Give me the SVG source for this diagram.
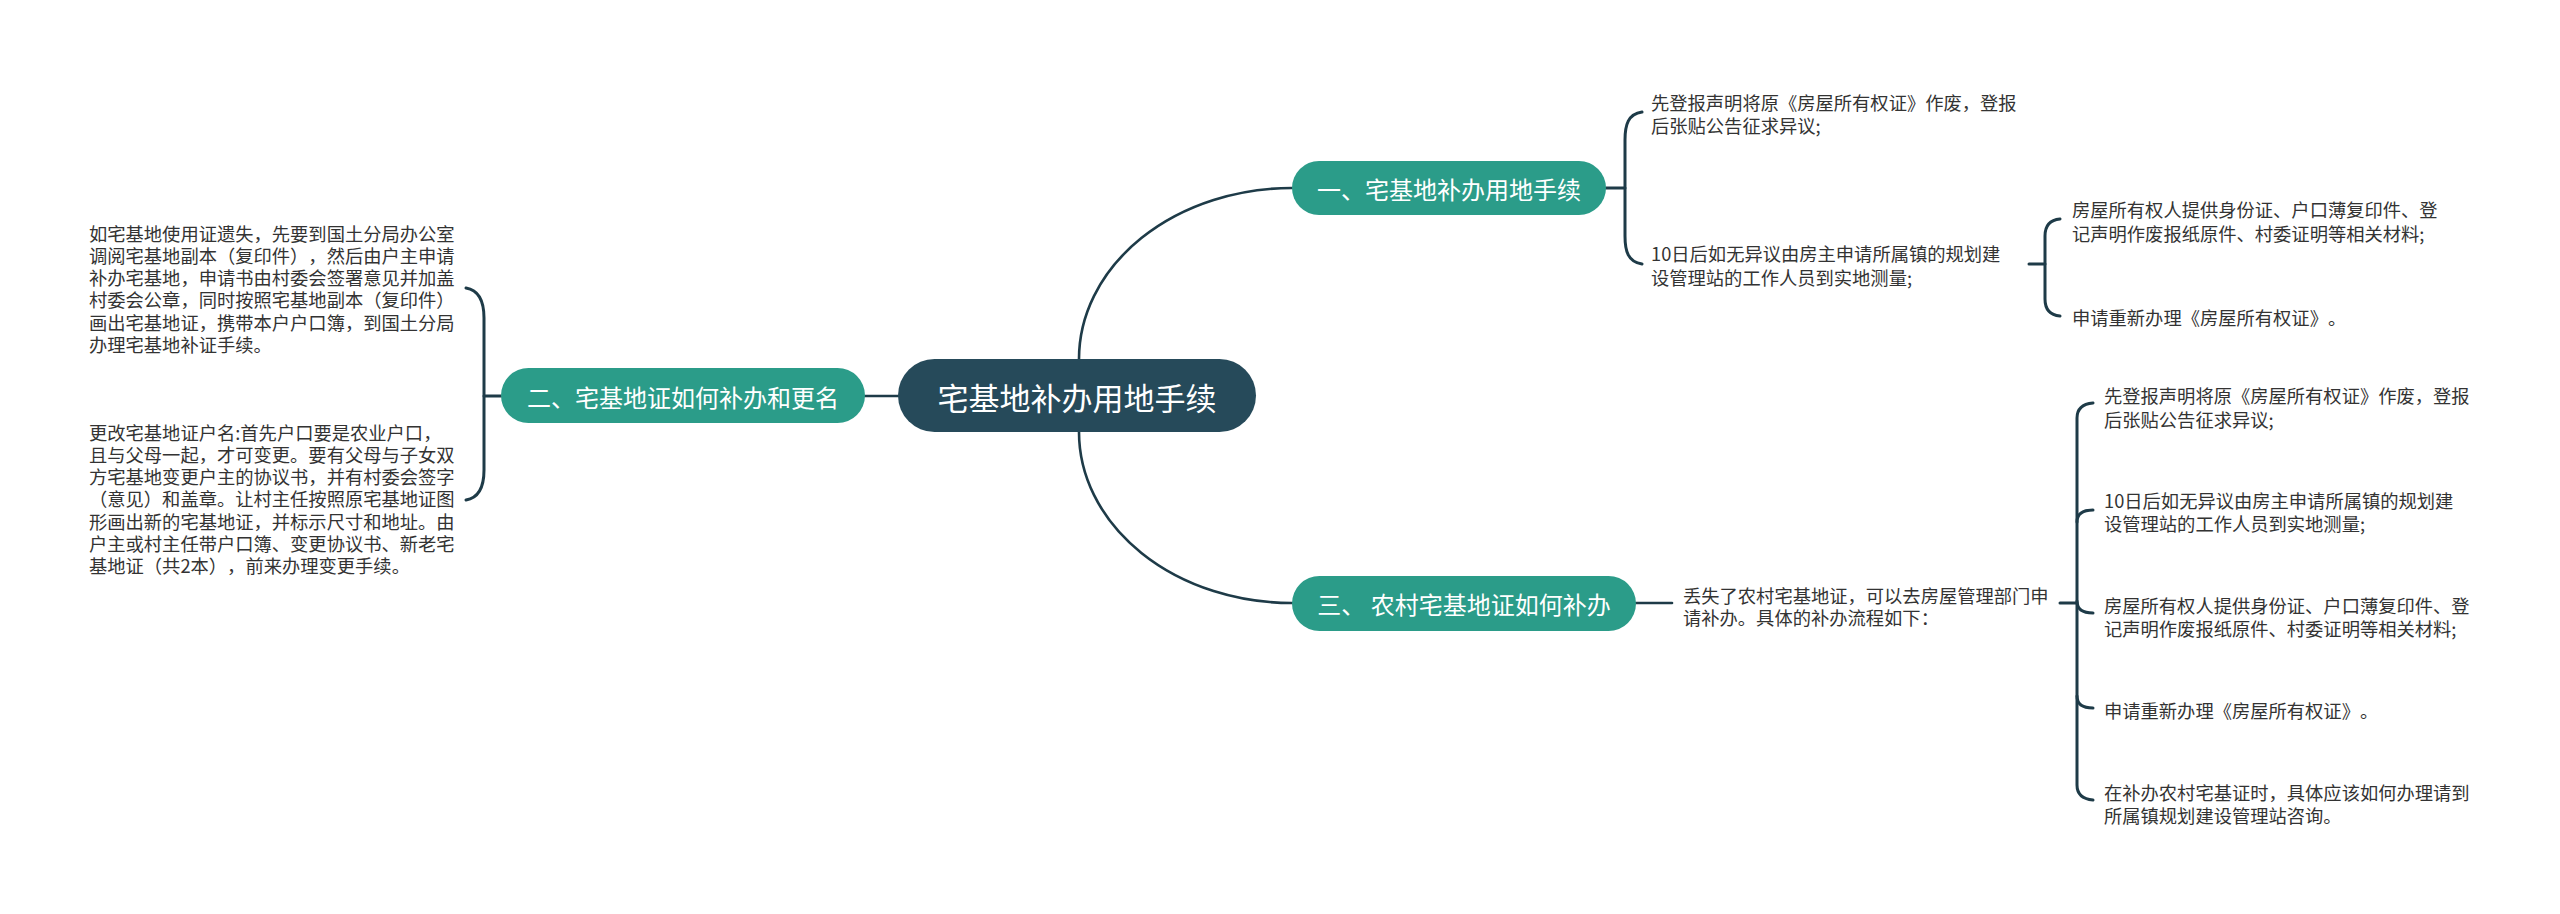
<svg xmlns="http://www.w3.org/2000/svg" width="2560" height="914" viewBox="0 0 2560 914">
<style>
.ln{fill:none;stroke:#1e3b48;stroke-width:2.6;stroke-linecap:round}
.br{fill:none;stroke:#1e3b48;stroke-width:3;stroke-linecap:round}
.root{fill:#264a5a}
.main{fill:#2b9c89}
.lbl{font-family:"Noto Sans CJK SC","Noto Sans",sans-serif;fill:#ffffff;text-anchor:middle;dominant-baseline:central}
.t{font-family:"Noto Sans CJK SC","Noto Sans",sans-serif;fill:#333333;font-size:18.3px;dominant-baseline:central;text-spacing-trim:space-all}
</style>
<rect width="2560" height="914" fill="#ffffff"/>
<g id="connectors">
<path class="ln" d="M1079,359 A213,171 0 0 1 1292,188"/>
<path class="ln" d="M1079,432 A213,171 0 0 0 1292,603"/>
<path class="ln" d="M865,396 L898,396"/>
<path class="br" d="M484,396 L501,396"/>
<path class="br" d="M466,288 C478,290 484,300 484,318 L484,470 C484,488 478,498 466,500"/>
<path class="br" d="M1606,188 L1625,188"/>
<path class="br" d="M1642,112 C1628,114 1625,125 1625,140 L1625,236 C1625,251 1628,262 1642,264"/>
<path class="br" d="M2029,264 L2045,264"/>
<path class="br" d="M2060,219 C2049,220 2045,227 2045,236 L2045,299 C2045,308 2049,315 2060,316"/>
<path class="ln" d="M1636,603 L1672,603"/>
<path class="br" d="M2060,603 L2077,603"/>
<path class="br" d="M2093,403 C2082,404 2077,409 2077,418 L2077,785 C2077,794 2082,799 2093,800"/>
<path class="br" d="M2077,522 C2077,514 2082,510 2093,510"/>
<path class="br" d="M2077,601 C2077,609 2082,613 2093,613"/>
<path class="br" d="M2077,696 C2077,704 2082,708 2093,708"/>
</g>
<g id="root">
<rect class="root" x="898" y="359" width="358" height="73" rx="36.5"/>
<text class="lbl" x="1077" y="396" font-size="31">宅基地补办用地手续</text>
</g>
<g id="n1">
<rect class="main" x="1292" y="161" width="314" height="54" rx="27"/>
<text class="lbl" x="1449" y="188" font-size="24">一、宅基地补办用地手续</text>
</g>
<g id="n2">
<rect class="main" x="501" y="368" width="364" height="55" rx="27.5"/>
<text class="lbl" x="683" y="396" font-size="24">二、宅基地证如何补办和更名</text>
</g>
<g id="n3">
<rect class="main" x="1292" y="576" width="344" height="55" rx="27.5"/>
<text class="lbl" x="1464" y="603" font-size="24">三、 农村宅基地证如何补办</text>
</g>
<g id="n1a">
<text class="t" x="1651" y="102">先登报声明将原《房屋所有权证》作废，登报</text>
<text class="t" x="1651" y="125">后张贴公告征求异议;</text>
</g>
<g id="n1b">
<text class="t" x="1651" y="253">10日后如无异议由房主申请所属镇的规划建</text>
<text class="t" x="1651" y="277">设管理站的工作人员到实地测量;</text>
</g>
<g id="n1b1">
<text class="t" x="2072" y="209">房屋所有权人提供身份证、户口薄复印件、登</text>
<text class="t" x="2072" y="233">记声明作废报纸原件、村委证明等相关材料;</text>
</g>
<g id="n1b2">
<text class="t" x="2072" y="317">申请重新办理《房屋所有权证》。</text>
</g>
<g id="n2a">
<text class="t" x="89" y="233">如宅基地使用证遗失，先要到国土分局办公室</text>
<text class="t" x="89" y="255">调阅宅基地副本（复印件），然后由户主申请</text>
<text class="t" x="89" y="277">补办宅基地，申请书由村委会签署意见并加盖</text>
<text class="t" x="89" y="299">村委会公章，同时按照宅基地副本（复印件）</text>
<text class="t" x="89" y="322">画出宅基地证，携带本户户口簿，到国土分局</text>
<text class="t" x="89" y="344">办理宅基地补证手续。</text>
</g>
<g id="n2b">
<text class="t" x="89" y="432">更改宅基地证户名:首先户口要是农业户口，</text>
<text class="t" x="89" y="454">且与父母一起，才可变更。要有父母与子女双</text>
<text class="t" x="89" y="476">方宅基地变更户主的协议书，并有村委会签字</text>
<text class="t" x="89" y="498">（意见）和盖章。让村主任按照原宅基地证图</text>
<text class="t" x="89" y="521">形画出新的宅基地证，并标示尺寸和地址。由</text>
<text class="t" x="89" y="543">户主或村主任带户口簿、变更协议书、新老宅</text>
<text class="t" x="89" y="565">基地证（共2本），前来办理变更手续。</text>
</g>
<g id="n3a">
<text class="t" x="1683" y="595">丢失了农村宅基地证，可以去房屋管理部门申</text>
<text class="t" x="1683" y="617">请补办。具体的补办流程如下：</text>
</g>
<g id="n3a1">
<text class="t" x="2104" y="395">先登报声明将原《房屋所有权证》作废，登报</text>
<text class="t" x="2104" y="419">后张贴公告征求异议;</text>
</g>
<g id="n3a2">
<text class="t" x="2104" y="500">10日后如无异议由房主申请所属镇的规划建</text>
<text class="t" x="2104" y="523">设管理站的工作人员到实地测量;</text>
</g>
<g id="n3a3">
<text class="t" x="2104" y="605">房屋所有权人提供身份证、户口薄复印件、登</text>
<text class="t" x="2104" y="628">记声明作废报纸原件、村委证明等相关材料;</text>
</g>
<g id="n3a4">
<text class="t" x="2104" y="710">申请重新办理《房屋所有权证》。</text>
</g>
<g id="n3a5">
<text class="t" x="2104" y="792">在补办农村宅基证时，具体应该如何办理请到</text>
<text class="t" x="2104" y="815">所属镇规划建设管理站咨询。</text>
</g>
</svg>
